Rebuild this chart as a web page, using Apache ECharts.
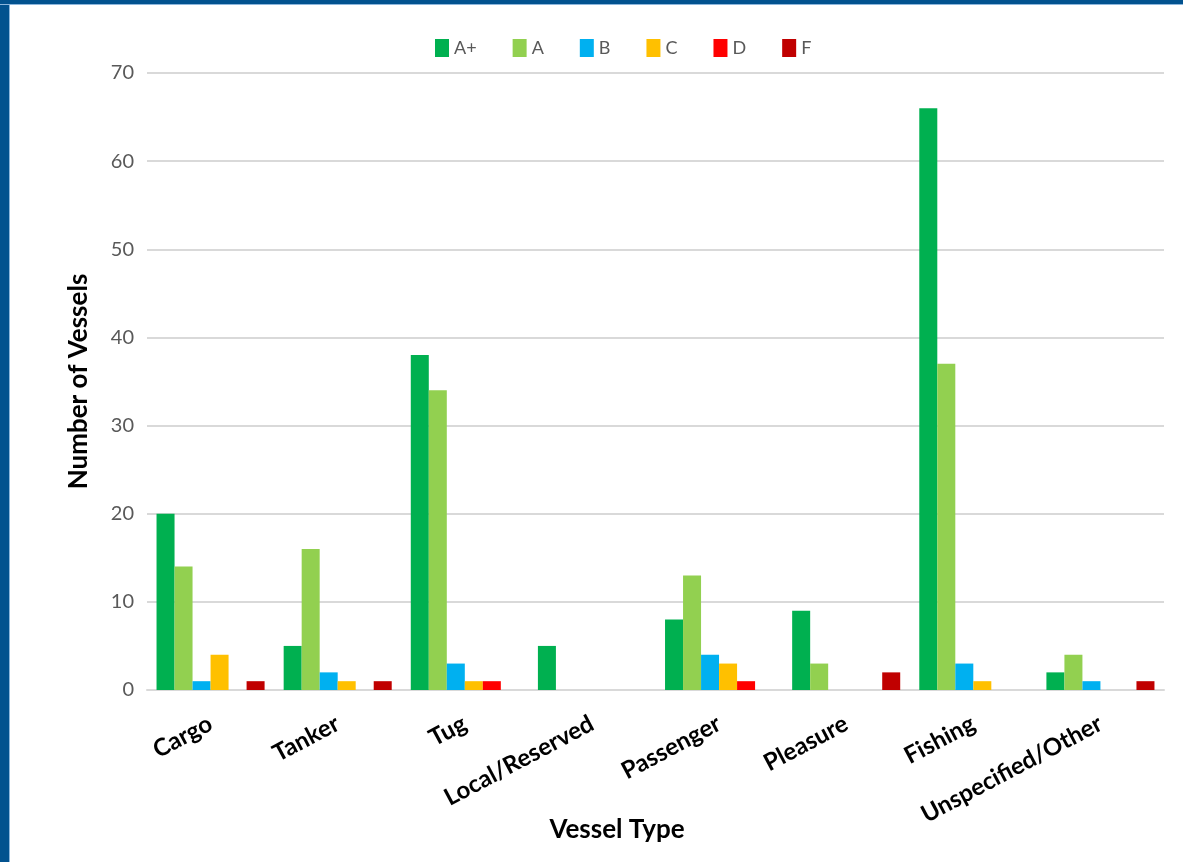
<!DOCTYPE html>
<html>
<head>
<meta charset="utf-8">
<script src="https://cdn.jsdelivr.net/npm/echarts@6/dist/echarts.min.js"></script>
<style>
  html, body { margin: 0; padding: 0; background: #ffffff; }
  #chart { width: 1183px; height: 862px; }
</style>
</head>
<body>
<div id="chart"></div>
<script>
// Vessel types along the x axis
const categories = ['Cargo', 'Tanker', 'Tug', 'Local/Reserved', 'Passenger', 'Pleasure', 'Fishing', 'Unspecified/Other'];

// Number of vessels per grade
const gradeAPlus = [20, 5, 38, 5, 8, 9, 66, 2];
const gradeA     = [14, 16, 34, 0, 13, 3, 37, 4];
const gradeB     = [1, 2, 3, 0, 4, 0, 3, 1];
const gradeC     = [4, 1, 1, 0, 3, 0, 1, 0];
const gradeD     = [0, 0, 1, 0, 1, 0, 0, 0];
const gradeF     = [1, 1, 0, 0, 0, 2, 0, 1];

const seriesDefs = [
  { name: 'A+', data: gradeAPlus, color: '#00B050' },
  { name: 'A',  data: gradeA,     color: '#92D050' },
  { name: 'B',  data: gradeB,     color: '#00B0F0' },
  { name: 'C',  data: gradeC,     color: '#FFC000' },
  { name: 'D',  data: gradeD,     color: '#FF0000' },
  { name: 'F',  data: gradeF,     color: '#C00000' }
];

const chart = echarts.init(document.getElementById('chart'), null, { renderer: 'canvas' });
const font = 'Lato, "Open Sans", sans-serif';

chart.setOption({
  animation: false,
  backgroundColor: '#ffffff',
  textStyle: { fontFamily: font },
  legend: {
    top: 34,
    left: 430,
    itemWidth: 14,
    itemHeight: 18,
    itemGap: 36,
    icon: 'rect',
    textStyle: { color: '#595959', fontSize: 18, fontFamily: font },
    data: seriesDefs.map(s => s.name)
  },
  grid: { left: 147, right: 19, top: 73, bottom: 172, containLabel: false },
  xAxis: {
    type: 'category',
    data: categories,
    axisLine: { show: true, lineStyle: { color: '#d9d9d9', width: 2 } },
    axisTick: { show: false },
    axisLabel: {
      rotate: 28,
      margin: 32,
      interval: 0,
      color: '#000000',
      fontSize: 24,
      fontWeight: 'bold',
      fontFamily: font
    }
  },
  yAxis: {
    type: 'value',
    min: 0,
    max: 70,
    interval: 10,
    name: 'Number of Vessels',
    nameLocation: 'middle',
    nameGap: 55,
    nameTextStyle: { color: '#000000', fontSize: 26, fontWeight: 'bold', fontFamily: font },
    axisLine: { show: false },
    axisTick: { show: false },
    axisLabel: { color: '#595959', fontSize: 20, margin: 13, fontFamily: font },
    splitLine: { lineStyle: { color: '#d9d9d9', width: 2 } }
  },
  series: seriesDefs.map(s => ({
    name: s.name,
    type: 'bar',
    data: s.data,
    barGap: '0%',
    barCategoryGap: '15%',
    itemStyle: { color: s.color }
  })),
  graphic: [
    // frame edges
    { type: 'rect', left: 0, top: 0, shape: { width: 9, height: 862 }, style: { fill: '#02528F' }, z: 100 },
    { type: 'rect', left: 9, top: 0, shape: { width: 1, height: 862 }, style: { fill: '#8DB6DC' }, z: 100 },
    { type: 'rect', left: 0, top: 0, shape: { width: 1183, height: 4 }, style: { fill: '#02528F' }, z: 100 },
    { type: 'rect', left: 0, top: 4, shape: { width: 1183, height: 1 }, style: { fill: '#8DB6DC' }, z: 100 },
    // x axis title
    {
      type: 'text',
      x: 617,
      y: 830,
      style: {
        text: 'Vessel Type',
        fill: '#000000',
        font: 'bold 26px ' + font,
        textAlign: 'center',
        textVerticalAlign: 'middle'
      }
    }
  ]
});
</script>
</body>
</html>
